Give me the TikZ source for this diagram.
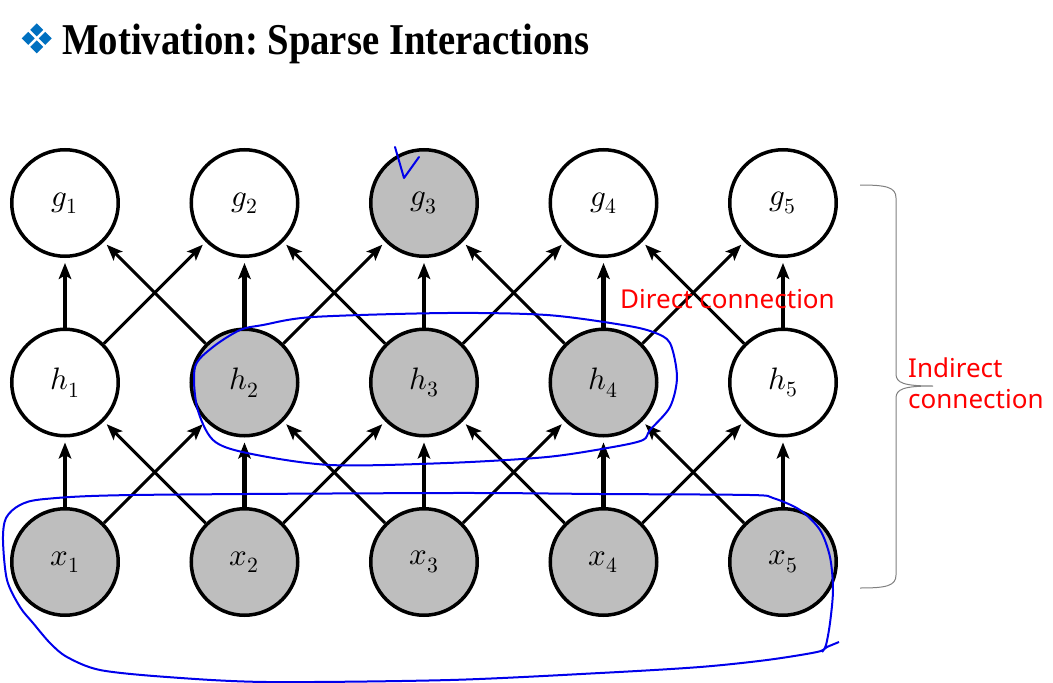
\documentclass[tikz,border=0pt]{standalone}
\usepackage{fontspec}
\usepackage{unicode-math}
\usepackage{graphicx}
\usetikzlibrary{arrows.meta}
\newfontfamily\otsikko{Liberation Serif}
\newfontfamily\teksti{Noto Sans}
\definecolor{harmaa}{RGB}{190,190,190}
\definecolor{kyna}{RGB}{0,0,235}
\definecolor{sininen}{RGB}{0,112,192}
\frenchspacing

\begin{document}
\begin{tikzpicture}[x=89.75pt,y=89.75pt,>={Stealth[length=16pt,width=12.5pt,inset=3.5pt]},
  solmu/.style={draw,circle,line width=3.5pt,minimum size=106.5pt,inner sep=0pt,fill=white,
    font=\fontsize{31}{36}\selectfont}]
\useasboundingbox (-0.7242,2.2618) rectangle (11.0084,-5.3482);
\newcommand\kerros[2]{
\path[draw,line width=4.5pt,->,shorten >=5pt] (#11) -- (#21);
\path[draw,line width=4.5pt,->,shorten >=5pt] (#12) -- (#22);
\path[draw,line width=4.5pt,->,shorten >=5pt] (#13) -- (#23);
\path[draw,line width=4.5pt,->,shorten >=5pt] (#14) -- (#24);
\path[draw,line width=4.5pt,->,shorten >=5pt] (#15) -- (#25);
\path[draw,line width=3pt,->,shorten >=4pt] (#11) -- (#22);
\path[draw,line width=3pt,->,shorten >=4pt] (#12) -- (#23);
\path[draw,line width=3pt,->,shorten >=4pt] (#13) -- (#24);
\path[draw,line width=3pt,->,shorten >=4pt] (#14) -- (#25);
\path[draw,line width=3pt,->,shorten >=4pt] (#12) -- (#21);
\path[draw,line width=3pt,->,shorten >=4pt] (#13) -- (#22);
\path[draw,line width=3pt,->,shorten >=4pt] (#14) -- (#23);
\path[draw,line width=3pt,->,shorten >=4pt] (#15) -- (#24);
}
\node[solmu] (g1) at (0,0) {$g_1$};
\node[solmu] (g2) at (2,0) {$g_2$};
\node[solmu,fill=harmaa] (g3) at (4,0) {$g_3$};
\node[solmu] (g4) at (6,0) {$g_4$};
\node[solmu] (g5) at (8,0) {$g_5$};
\node[solmu] (h1) at (0,-2) {$h_1$};
\node[solmu,fill=harmaa] (h2) at (2,-2) {$h_2$};
\node[solmu,fill=harmaa] (h3) at (4,-2) {$h_3$};
\node[solmu,fill=harmaa] (h4) at (6,-2) {$h_4$};
\node[solmu] (h5) at (8,-2) {$h_5$};
\node[solmu,fill=harmaa] (x1) at (0,-4) {$x_1$};
\node[solmu,fill=harmaa] (x2) at (2,-4) {$x_2$};
\node[solmu,fill=harmaa] (x3) at (4,-4) {$x_3$};
\node[solmu,fill=harmaa] (x4) at (6,-4) {$x_4$};
\node[solmu,fill=harmaa] (x5) at (8,-4) {$x_5$};

\kerros{h}{g}
\kerros{x}{h}

% title, labels and pen marks in pixel units
\begin{scope}[shift={(-0.7242,2.2618)},x=1pt,y=-1pt]
\fill[sininen] (36.7,23.3) -- (43.2,29.8) -- (36.7,36.3) -- (30.2,29.8) -- cycle
  (36.7,40.3) -- (43.2,46.8) -- (36.7,53.3) -- (30.2,46.8) -- cycle
  (28.2,31.8) -- (34.7,38.3) -- (28.2,44.8) -- (21.7,38.3) -- cycle
  (45.2,31.8) -- (51.7,38.3) -- (45.2,44.8) -- (38.7,38.3) -- cycle;
\node[anchor=base west,inner sep=0pt] (otsikko) at (62,54)
  {\otsikko\bfseries\fontsize{44}{50}\selectfont\scalebox{0.88}[1]{Motivation: Sparse Interactions}};
\node[anchor=base west,inner sep=0pt,text=red,font=\teksti\fontsize{26}{31}\selectfont] (suora) at (620,308) {Direct connection};
\node[anchor=base west,inner sep=0pt,align=left,text=red,font=\teksti\fontsize{26}{31}\selectfont] (epasuora) at (908,408) {Indirect\\connection};
\draw[gray,line width=1pt] (860,185) .. controls (886,185) and (896,187) .. (896,198) -- (896,374)
  .. controls (896,383) and (904,386) .. (933,386) .. controls (904,386) and (896,389) .. (896,398)
  -- (896,575) .. controls (896,586) and (886,588) .. (860,588);
% blue pen
\draw[kyna,line width=2pt,line cap=round,line join=round] (395,147) -- (404,178) -- (419,157);
\draw[kyna,line width=2pt] plot[smooth cycle] coordinates {(240,330) (263,325) (313,317) (447,313)
  (547,315) (623,325) (653,332) (670,343) (677,377) (670,407) (650,430) (643,440) (613,447)
  (547,457) (447,463) (330,465) (247,453) (213,440) (197,407) (195,367) (213,347)};
\draw[kyna,line width=2pt] plot[smooth] coordinates {(839,642) (827,647) (817,652) (767,660)
  (700,667) (600,673) (450,680) (267,682) (167,677) (100,670) (67,657) (50,643) (33,623)
  (20,607) (7,580) (3,540) (6,518) (20,505) (45,499) (133,495) (450,493) (600,494) (750,495)
  (773,498) (800,510) (820,530) (830,557) (833,590) (830,623) (826,645) (822,652)};
\end{scope}
\end{tikzpicture}
\end{document}
